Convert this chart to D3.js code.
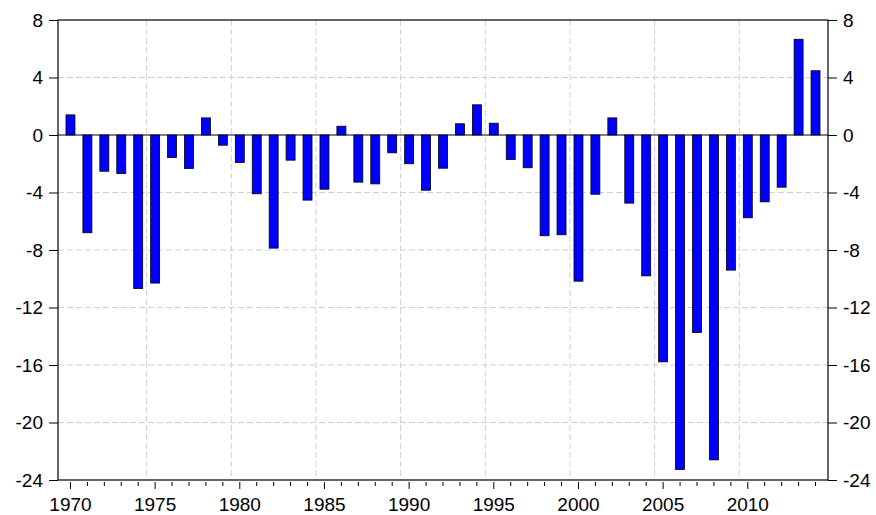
<!DOCTYPE html>
<html>
<head>
<meta charset="utf-8">
<script src="https://cdn.jsdelivr.net/npm/d3@7/dist/d3.min.js"></script>
<style>
  body { margin: 0; background: #fff; }
  svg { display: block; }
  .axis text { font-family: "Liberation Sans", Arial, sans-serif; font-size: 19px; fill: #000; }
  .axis line { stroke: #000; stroke-width: 1; }
</style>
</head>
<body>
<div id="chart"></div>
<script>
// ── Data ────────────────────────────────────────────────────────────────
const years = d3.range(1970, 2015);
const values = [
   1.40, -6.80, -2.52, -2.68, -10.68, -10.30, -1.57, -2.33,  1.19, -0.71,
  -1.91, -4.09, -7.87, -1.75,  -4.53,  -3.77,  0.61, -3.28, -3.40, -1.24,
  -2.00, -3.84, -2.31,  0.78,   2.10,   0.82, -1.70, -2.28, -7.01, -6.94,
 -10.17, -4.12,  1.19, -4.74,  -9.80, -15.78,-23.27,-13.74,-22.60, -9.40,
  -5.76, -4.65, -3.63,  6.66,   4.47
];
const yTicks = [8, 4, 0, -4, -8, -12, -16, -20, -24];
const xLabelYears = [1970, 1975, 1980, 1985, 1990, 1995, 2000, 2005, 2010];

const W = 876, H = 515;
const frame = { left: 58, right: 828, top: 20, bottom: 480 };

const svg = d3.select('#chart')
  .append('svg')
  .attr('width', W)
  .attr('height', H);

const x = d3.scaleBand()
  .domain(years)
  .range([frame.left + 4, frame.right - 4])
  .paddingInner(0.47)
  .paddingOuter(0.235);

const y = d3.scaleLinear()
  .domain([-24, 8])
  .range([frame.bottom, frame.top]);

const step = x.step();
const center = yr => x(yr) + x.bandwidth() / 2;

// Grid lines
svg.append('g')
  .selectAll('line')
  .data(yTicks.filter(t => t !== 0 && t !== 8 && t !== -24))
  .enter()
  .append('line')
  .attr('x1', frame.left).attr('x2', frame.right)
  .attr('y1', d => y(d)).attr('y2', d => y(d))
  .attr('stroke', '#d0d0d0')
  .attr('stroke-dasharray', '6,3');

svg.append('g')
  .selectAll('line')
  .data(xLabelYears.filter(yr => yr !== 1970))
  .enter()
  .append('line')
  .attr('x1', d => center(d) - step / 2).attr('x2', d => center(d) - step / 2)
  .attr('y1', frame.top).attr('y2', frame.bottom)
  .attr('stroke', '#d0d0d0')
  .attr('stroke-dasharray', '6,3');

// Zero line
svg.append('line')
  .attr('x1', frame.left).attr('x2', frame.right)
  .attr('y1', y(0)).attr('y2', y(0))
  .attr('stroke', '#000')
  .attr('stroke-width', 1.2);

// Bars
svg.selectAll('.bar')
  .data(years.map((yr, i) => ({ year: yr, value: values[i] })))
  .enter()
  .append('rect')
  .attr('class', 'bar')
  .attr('x', d => x(d.year))
  .attr('width', x.bandwidth())
  .attr('y', d => y(Math.max(0, d.value)))
  .attr('height', d => Math.abs(y(d.value) - y(0)))
  .attr('fill', '#0000ff')
  .attr('stroke', '#000')
  .attr('stroke-width', 0.8);

// Frame
svg.append('rect')
  .attr('x', frame.left).attr('y', frame.top)
  .attr('width', frame.right - frame.left)
  .attr('height', frame.bottom - frame.top)
  .attr('fill', 'none')
  .attr('stroke', '#000')
  .attr('stroke-width', 1.2);

// Y axes (left and right), plain hyphen for negatives
const fmt = d => String(d);

const leftAxis = svg.append('g')
  .attr('class', 'axis')
  .attr('transform', `translate(${frame.left},0)`)
  .call(d3.axisLeft(y).tickValues(yTicks).tickFormat(fmt).tickSize(9).tickPadding(6).tickSizeOuter(0));
leftAxis.select('.domain').remove();

const rightAxis = svg.append('g')
  .attr('class', 'axis')
  .attr('transform', `translate(${frame.right},0)`)
  .call(d3.axisRight(y).tickValues(yTicks).tickFormat(fmt).tickSize(9).tickPadding(6).tickSizeOuter(0));
rightAxis.select('.domain').remove();

// X axis: minor tick every year, major every 5 years
const xAxis = svg.append('g')
  .attr('class', 'axis')
  .attr('transform', `translate(0,${frame.bottom + 2})`);

xAxis.selectAll('line')
  .data(years)
  .enter()
  .append('line')
  .attr('x1', d => center(d)).attr('x2', d => center(d))
  .attr('y1', 0)
  .attr('y2', d => xLabelYears.includes(d) ? 7 : 4);

xAxis.selectAll('text')
  .data(xLabelYears)
  .enter()
  .append('text')
  .attr('x', d => center(d))
  .attr('y', 29)
  .attr('text-anchor', 'middle')
  .text(d => d);
</script>
</body>
</html>
